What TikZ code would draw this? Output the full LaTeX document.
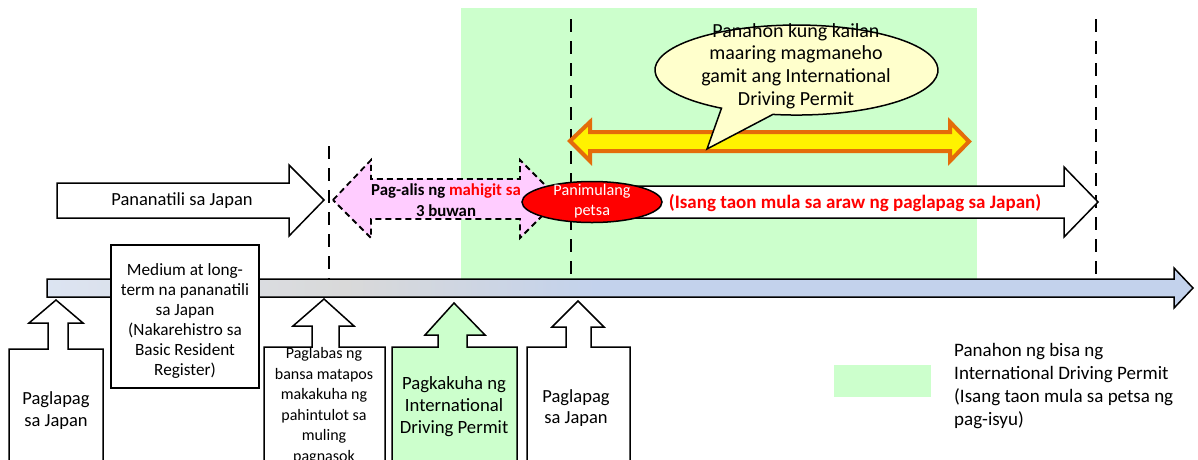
\documentclass[tikz,border=0pt]{standalone}
\usepackage{fontspec}
\setmainfont{Carlito}
\usetikzlibrary{calc}
\definecolor{bandgreen}{HTML}{CCFFCC}
\definecolor{pinkfill}{HTML}{FFCCFF}
\definecolor{orangeline}{HTML}{E46C0A}
\definecolor{bubblefill}{HTML}{FFFFCC}
\definecolor{barL}{HTML}{DCE4F2}
\definecolor{barM}{HTML}{D9D9D9}
\definecolor{barR}{HTML}{C3D2EC}
\pgfdeclarehorizontalshading{barshade}{100bp}{color(0bp)=(barL); color(25bp)=(barL); color(38bp)=(barM); color(49bp)=(barR); color(75bp)=(barR); color(100bp)=(barR)}
\newcommand{\fsnorm}{\fontsize{16}{20.5}\selectfont}
\newcommand{\fsbig}{\fontsize{20}{22.6}\selectfont}
\tikzset{
  every node/.style={inner sep=0pt, align=center, font=\fsnorm},
  blockarrow/.style={draw=black, line width=1.5pt, line join=miter},
  vline/.style={draw=black, line width=2.8pt, dash pattern=on 12.5pt off 9.5pt},
}
\begin{document}
\begin{tikzpicture}[x=1pt, y=-1pt]
\useasboundingbox (0,0) rectangle (1198,459);
\clip (0,0) rectangle (1198,459);
% validity band
\fill[bandgreen] (461,8) rectangle (977,280);
% dashed vertical lines
\coordinate (v1t) at (329,146); \coordinate (v1b) at (329,280);
\coordinate (v2t) at (571,19);  \coordinate (v2b) at (571,280);
\coordinate (v3t) at (1096,19); \coordinate (v3b) at (1096,280);
\draw[vline] (v1t) -- (v1b);
\draw[vline] (v2t) -- (v2b);
\draw[vline] (v3t) -- (v3b);
% timeline bar
\path[shading=barshade, draw=black, line width=1.5pt, line join=miter]
  (47,279) -- (1174,279) -- (1174,268) -- (1193,288) -- (1174,308) -- (1174,297) -- (47,297) -- cycle;
% Pananatili arrow
\draw[blockarrow, fill=white] (57,183) -- (289,183) -- (289,165) -- (324,200) -- (289,236) -- (289,218) -- (57,218) -- cycle;
\node[font=\fontsize{18.5}{22}\selectfont] (stay) at (182,201) {Pananatili sa Japan};
% pink dashed double arrow
\draw[fill=pinkfill, draw=black, line width=1.8pt, dash pattern=on 6pt off 4pt]
  (333,200) -- (371,160) -- (371,179) -- (520,179) -- (520,160) -- (559,199)
  -- (520,238) -- (520,219) -- (371,219) -- (371,238) -- cycle;
\node[font=\fontsize{16.8}{21.5}\selectfont\bfseries] (leave) at (446,200) {Pag-alis ng \textcolor{red}{mahigit sa}\\3 buwan};
% white long arrow
\draw[blockarrow, fill=white] (600,186) -- (1064,186) -- (1064,167) -- (1098,202) -- (1064,237) -- (1064,218) -- (600,218) -- cycle;
\node[font=\fontsize{19}{22}\selectfont\bfseries, text=red] (year) at (855,203) {(Isang taon mula sa araw ng paglapag sa Japan)};
% red ellipse
\draw[fill=red, draw=black, line width=1.5pt] (592,202) ellipse [x radius=70, y radius=20.5];
\node[text=white, font=\fontsize{16.2}{20}\selectfont] (start) at (592,201) {Panimulang\\petsa};
% yellow double arrow
\draw[fill=yellow, draw=orangeline, line width=4pt, line join=miter]
  (570,141) -- (590,122) -- (590,132) -- (950,132) -- (950,122) -- (969,141.5)
  -- (950,161) -- (950,151) -- (590,151) -- (590,161) -- cycle;
% speech bubble
\draw[fill=bubblefill, draw=black, line width=1.5pt, line join=miter]
  (707,149) -- (721.5,108.2) arc[start angle=122, end angle=459.6, x radius=141.5, y radius=45] -- cycle;
\node[font=\fsbig] (bubble) at (796,66) {Panahon kung kailan\\maaring magmaneho\\gamit ang International\\Driving Permit};
% bottom up-arrows
\draw[blockarrow, fill=white] (9,470) -- (9,349) -- (48,349) -- (48,323) -- (29,323) -- (56,300) -- (83,323) -- (68,323) -- (68,349) -- (103,349) -- (103,470) -- cycle;
\node[font=\fontsize{18.5}{22}\selectfont] (land1) at (56,411) {Paglapag\\sa Japan};
\draw[blockarrow, fill=white] (111,245) rectangle (259,388);
\node[font=\fontsize{17.2}{20}\selectfont] (medium) at (185,321) {Medium at long-\\term na pananatili\\sa Japan\\(Nakarehistro sa\\Basic Resident\\Register)};
\draw[blockarrow, fill=white] (264,470) -- (264,347) -- (312,347) -- (312,326) -- (293,326) -- (324,299) -- (354,326) -- (339,326) -- (339,347) -- (385,347) -- (385,470) -- cycle;
\node (exit) at (324,406) {Paglabas ng\\bansa matapos\\makakuha ng\\pahintulot sa\\muling\\pagnasok};
\draw[blockarrow, fill=bandgreen] (392,470) -- (392,347) -- (438,347) -- (438,335) -- (425,335) -- (454,303) -- (485,335) -- (467,335) -- (467,347) -- (517,347) -- (517,470) -- cycle;
\node[font=\fontsize{18.7}{22}\selectfont] (idp) at (454,407) {Pagkakuha ng\\International\\Driving Permit};
\draw[blockarrow, fill=white] (527,470) -- (527,347) -- (566,347) -- (566,327) -- (552,327) -- (578,301) -- (604,327) -- (591,327) -- (591,347) -- (630,347) -- (630,470) -- cycle;
\node[font=\fontsize{18.5}{21.5}\selectfont] (land2) at (576,408) {Paglapag\\sa Japan};
% legend
\fill[bandgreen] (834,365) rectangle (931,397);
\node[align=left, anchor=west, font=\fontsize{19}{22.7}\selectfont] (legend) at (954,386) {Panahon ng bisa ng\\International Driving Permit\\(Isang taon mula sa petsa ng\\pag-isyu)};
\end{tikzpicture}
\end{document}
